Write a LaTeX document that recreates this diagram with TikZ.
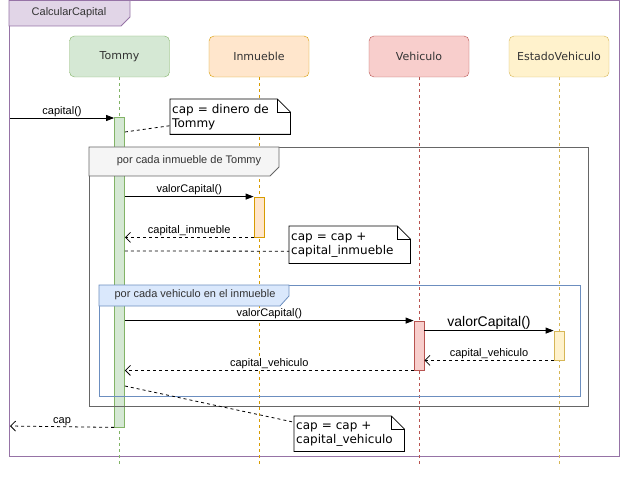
\documentclass[tikz,border=0pt]{standalone}
\usepackage{fontspec}
\setmainfont{Liberation Sans}
\newfontfamily\headfont{DejaVu Sans}
\usetikzlibrary{arrows.meta}
\definecolor{tommyfill}{HTML}{D5E8D4}
\definecolor{tommyline}{HTML}{82B366}
\definecolor{inmfill}{HTML}{FFE6CC}
\definecolor{inmline}{HTML}{D79B00}
\definecolor{vehfill}{HTML}{F8CECC}
\definecolor{vehline}{HTML}{B85450}
\definecolor{estfill}{HTML}{FFF2CC}
\definecolor{estline}{HTML}{D6B656}
\definecolor{framepurple}{HTML}{9673A6}
\definecolor{framefill}{HTML}{E1D5E7}
\definecolor{loopgray}{HTML}{666666}
\definecolor{loopfill}{HTML}{F5F5F5}
\definecolor{loopblue}{HTML}{6C8EBF}
\definecolor{loopbluefill}{HTML}{DAE8FC}
\definecolor{textgray}{HTML}{333333}
\newcommand{\foldnote}[1]{%
  \draw[line width=0.8pt] (#1.north west) -- ([xshift=-13pt]#1.north east) -- ([yshift=-13pt]#1.north east)
    -- (#1.south east) -- (#1.south west) -- cycle;
  \draw[line width=0.8pt] ([xshift=-13pt]#1.north east) |- ([yshift=-13pt]#1.north east);}

\begin{document}
\begin{tikzpicture}[x=1pt, y=-1pt,
  head/.style={draw, rounded corners=5pt, minimum width=100pt, minimum height=41pt, inner sep=2pt,
    font=\headfont\fontsize{11}{13}\selectfont, text=textgray},
  lifeline/.style={dash pattern=on 3pt off 3pt, line width=0.8pt},
  actbar/.style={draw, minimum width=10pt, inner sep=0pt, line width=0.8pt},
  msg/.style={-{Triangle[length=8pt,width=6pt]}, line width=0.8pt},
  reply/.style={dashed, -{Straight Barb[length=5pt,width=10pt]}, line width=0.8pt},
  lbl/.style={midway, above, inner sep=1pt, fill=white, font=\fontsize{11}{13}\selectfont},
  notebox/.style={anchor=north west, fill=white, align=left, inner sep=2pt,
    font=\headfont\fontsize{12}{14}\selectfont},
  link/.style={dashed, line width=0.8pt},
  frametab/.style={font=\fontsize{11}{13}\selectfont, text=textgray}]
\useasboundingbox (0,0) rectangle (631,478);

\draw[draw=framepurple, line width=0.8pt] (9,0.5) rectangle (619,456);
\draw[draw=framepurple, fill=framefill, line width=0.8pt] (9,0.5) -- (130,0.5) -- (130,17) -- (121,26) -- (9,26) -- cycle;
\node[frametab] (calc) at (69,13) {CalcularCapital};

\node[head, fill=tommyfill, draw=tommyline] (tommy) at (119.5,56.5) {Tommy};
\node[head, fill=inmfill, draw=inmline] (inmueble) at (259,56.5) {Inmueble};
\node[head, fill=vehfill, draw=vehline] (vehiculo) at (419,56.5) {Vehiculo};
\node[head, fill=estfill, draw=estline] (estado) at (559,56.5) {EstadoVehiculo};
\foreach \n/\c in {tommy/tommyline, inmueble/inmline, vehiculo/vehline, estado/estline}
  \draw[lifeline, draw=\c] (\n.south) -- ++(0,388);

\node[actbar, fill=tommyfill, draw=tommyline, minimum height=310pt] (actT) at (119.5,272) {};
\node[actbar, fill=inmfill, draw=inmline, minimum height=40pt] (actI) at (259,217) {};
\node[actbar, fill=vehfill, draw=vehline, minimum height=49pt] (actV) at (419,345.5) {};
\node[actbar, fill=estfill, draw=estline, minimum height=29pt] (actE) at (559,345.5) {};

\draw[draw=loopgray, line width=0.8pt] (89,147) rectangle (588,406);
\draw[draw=loopgray, fill=loopfill, line width=0.8pt] (89,147) -- (279,147) -- (279,167) -- (270,176) -- (89,176) -- cycle;
\node[frametab] (loop1) at (189,161) {por cada inmueble de Tommy};
\draw[draw=loopblue, line width=0.8pt] (99,285) rectangle (580,396);
\draw[draw=loopblue, fill=loopbluefill, line width=0.8pt] (99,285) -- (289,285) -- (289,296) -- (280,306) -- (99,306) -- cycle;
\node[frametab] (loop2) at (195,295) {por cada vehiculo en el inmueble};

\coordinate (entry) at (10,118);
\coordinate (exit) at (10,426);
\draw[msg] (entry) -- (actT.west |- entry) node[lbl] {capital()};
\draw[msg] (actT.east |- actI.north) -- (actI.north west) node[lbl] {valorCapital()};
\draw[reply] (actI.south west) -- (actT.east |- actI.south) node[lbl] {capital\_inmueble};
\draw[msg] (actT.east |- actV.north) -- (actV.north west) node[lbl] {valorCapital()};
\draw[msg] (actV.east |- actE.north) -- (actE.north west) node[lbl, font=\fontsize{14}{16}\selectfont] {valorCapital()};
\draw[reply] (actE.south west) -- (actV.east |- actE.south) node[lbl] {capital\_vehiculo};
\draw[reply] (actV.south west) -- (actT.east |- actV.south) node[lbl] {capital\_vehiculo};
\draw[reply] (actT.south west) -- (exit) node[lbl] {cap};

\node[notebox, text width=116pt, minimum height=35pt] (note1) at (170,99) {cap = dinero de\\Tommy};
\foldnote{note1}
\draw[link] (actT.east |- 0,132) -- ([yshift=-9pt]note1.west);
\node[notebox, text width=117pt, minimum height=37pt] (note2) at (289,226) {cap = cap +\\capital\_inmueble};
\foldnote{note2}
\draw[link] (actT.east |- 0,251) -- ([yshift=-6.5pt]note2.west);
\node[notebox, text width=106pt, minimum height=35pt] (note3) at (294,416) {cap = cap +\\capital\_vehiculo};
\foldnote{note3}
\draw[link] (actT.east |- 0,386) -- ([yshift=11.5pt]note3.west);
\end{tikzpicture}
\end{document}
